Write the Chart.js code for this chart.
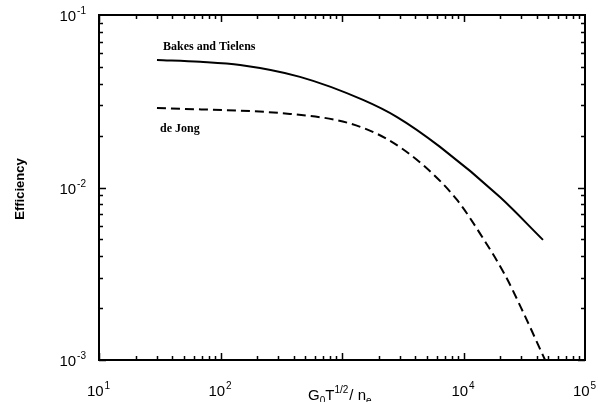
<!DOCTYPE html>
<html>
<head>
<meta charset="utf-8">
<script src="https://cdn.jsdelivr.net/npm/chart.js@4.4.1/dist/chart.umd.min.js"></script>
<style>
  html, body { margin: 0; padding: 0; background: #fff; }
  #wrap { width: 598px; height: 402px; }
</style>
</head>
<body>
<div id="wrap"><canvas id="chart" width="598" height="402"></canvas></div>
<script>
// values (log-log)
const bakesX = [30, 68, 145, 451, 1490, 2840, 6410, 19950, 45100];
const bakesY = [0.0548, 0.0535, 0.0513, 0.0438, 0.0322, 0.0256, 0.0172, 0.0088, 0.00497];
const jongX = [30, 373, 1119, 2344, 4645, 8850, 14450, 21960, 30900, 46900];
const jongY = [0.0289, 0.0267, 0.0237, 0.0191, 0.0135, 0.00847, 0.00509, 0.00311, 0.0019, 0.001];
const xMajor = [10, 100, 1000, 10000, 100000];
const xLabels = ['1', '2', '', '4', '5'];   // exponent of each decade label (10^3 slot holds the axis title)
const yMajor = [0.001, 0.01, 0.1];
const yLabels = ['-3', '-2', '-1'];

const toPts = (xs, ys) => xs.map((x, i) => ({ x: x, y: ys[i] }));

// frame, inward ticks and text
const decor = {
  id: 'decor',
  afterDraw(chart) {
    const c = chart.ctx, a = chart.chartArea;
    const sx = chart.scales.x, sy = chart.scales.y;
    c.save();
    c.strokeStyle = '#000';
    c.fillStyle = '#000';
    c.lineWidth = 2;
    c.strokeRect(a.left, a.top, a.right - a.left, a.bottom - a.top);

    c.lineWidth = 1.5;
    c.beginPath();
    for (let d = 10; d < 100000; d *= 10) {
      for (let k = 1; k <= 9; k++) {
        const px = Math.round(sx.getPixelForValue(d * k)) + 0.5;
        const len = k === 1 ? 7 : 4;
        c.moveTo(px, a.bottom); c.lineTo(px, a.bottom - len);
        c.moveTo(px, a.top); c.lineTo(px, a.top + len);
      }
    }
    for (let d = 0.001; d < 0.1; d *= 10) {
      for (let k = 1; k <= 9; k++) {
        const py = Math.round(sy.getPixelForValue(d * k)) + 0.5;
        const len = k === 1 ? 7 : 4;
        c.moveTo(a.left, py); c.lineTo(a.left + len, py);
        c.moveTo(a.right, py); c.lineTo(a.right - len, py);
      }
    }
    c.stroke();

    const base = '15px "Liberation Sans", Arial, sans-serif';
    const sup = '10px "Liberation Sans", Arial, sans-serif';
    c.textBaseline = 'alphabetic';

    // y tick labels
    yMajor.forEach((v, i) => {
      const py = sy.getPixelForValue(v);
      c.font = sup;
      const we = c.measureText(yLabels[i]).width;
      c.font = base;
      const wb = c.measureText('10').width;
      const x0 = a.left - 14 - we - wb;
      c.textAlign = 'left';
      c.fillText('10', x0, py + 6);
      c.font = sup;
      c.fillText(yLabels[i], x0 + wb + 1, py - 1);
    });

    // x tick labels
    xMajor.forEach((v, i) => {
      if (!xLabels[i]) return;
      const px = sx.getPixelForValue(v);
      c.font = base;
      const wb = c.measureText('10').width;
      c.font = sup;
      const we = c.measureText(xLabels[i]).width;
      const x0 = px - (wb + we) / 2 - 1;
      c.textAlign = 'left';
      c.font = base;
      c.fillText('10', x0, 396);
      c.font = sup;
      c.fillText(xLabels[i], x0 + wb + 1, 389);
    });

    // x axis title: G0 T1/2 / ne
    let x = 308;
    const parts = [
      ['G', base, 0], ['0', sup, 4], ['T', base, 0], ['1/2', sup, -7],
      ['/ n', base, 0], ['e', sup, 4]
    ];
    parts.forEach(p => {
      c.font = p[1];
      c.fillText(p[0], x, 400 + p[2]);
      x += c.measureText(p[0]).width + (p[0] === '1/2' ? 1 : 0);
    });

    // y axis title
    c.save();
    c.translate(24, 189);
    c.rotate(-Math.PI / 2);
    c.textAlign = 'center';
    c.font = 'bold 13px "Liberation Sans", Arial, sans-serif';
    c.fillText('Efficiency', 0, 0);
    c.restore();

    // curve labels
    c.font = 'bold 12px "Liberation Serif", "Times New Roman", serif';
    c.textAlign = 'left';
    c.fillText('Bakes and Tielens', 163, 50);
    c.fillText('de Jong', 160, 132);
    c.restore();
  }
};

new Chart(document.getElementById('chart'), {
  type: 'line',
  data: {
    datasets: [
      {
        label: 'Bakes and Tielens',
        data: toPts(bakesX, bakesY),
        borderColor: '#000',
        borderWidth: 2,
        pointRadius: 0,
        cubicInterpolationMode: 'monotone',
        fill: false
      },
      {
        label: 'de Jong',
        data: toPts(jongX, jongY),
        borderColor: '#000',
        borderWidth: 2,
        borderDash: [9, 5],
        pointRadius: 0,
        cubicInterpolationMode: 'monotone',
        fill: false
      }
    ]
  },
  options: {
    responsive: false,
    animation: false,
    layout: { padding: { left: 99, right: 13, top: 15, bottom: 42 } },
    plugins: { legend: { display: false }, tooltip: { enabled: false } },
    scales: {
      x: { type: 'logarithmic', min: 10, max: 100000, display: false },
      y: { type: 'logarithmic', min: 0.001, max: 0.1, display: false }
    }
  },
  plugins: [decor]
});
</script>
</body>
</html>
